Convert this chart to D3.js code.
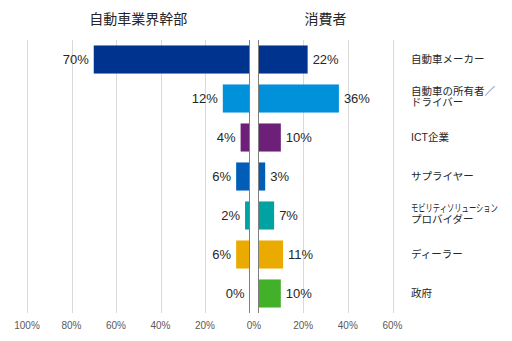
<!DOCTYPE html>
<html><head><meta charset="utf-8">
<script src="https://cdn.jsdelivr.net/npm/d3@7"></script>
<style>body{margin:0;background:#fff;}svg{display:block;}text{font-family:"Liberation Sans","Noto Sans CJK JP",sans-serif;}</style>
</head><body>
<svg id="c" width="512" height="341"></svg>
<script>
const categories = [["自動車メーカー"],["自動車の所有者／","ドライバー"],["ICT企業"],["サプライヤー"],["モビリティソリューション","プロバイダー"],["ディーラー"],["政府"]];
const executives = [70,12,4,6,2,6,0];
const consumers = [22,36,10,3,7,11,10];
const colors = ["#00338D","#0091DA","#6D2077","#005EB8","#00A3A1","#EAAA00","#43B02A"];
const leftTicks = [100,80,60,40,20];
const rightTicks = [20,40,60];
const titles = ["自動車業界幹部","消費者"];

const svg = d3.select("#c");
const plotTop = 40, plotBottom = 313;
const xL = d3.scaleLinear().domain([0,100]).range([249.5,27]);
const xR = d3.scaleLinear().domain([0,60]).range([258.5,392.5]);
const y = d3.scaleBand().domain(d3.range(categories.length)).range([plotTop,plotBottom]).paddingInner(0.28).paddingOuter(0.14);

// gridlines
svg.append("g").selectAll("line").data(leftTicks).join("line")
  .attr("x1",d=>Math.round(xL(d))+0.5).attr("x2",d=>Math.round(xL(d))+0.5)
  .attr("y1",plotTop).attr("y2",plotBottom).attr("stroke","#d9d9d9");
svg.append("g").selectAll("line").data(rightTicks).join("line")
  .attr("x1",d=>Math.round(xR(d))+0.5).attr("x2",d=>Math.round(xR(d))+0.5)
  .attr("y1",plotTop).attr("y2",plotBottom).attr("stroke","#d9d9d9");

// bars
svg.append("g").selectAll("rect").data(executives).join("rect")
  .attr("x",d=>xL(d)).attr("width",d=>xL(0)-xL(d))
  .attr("y",(d,i)=>y(i)).attr("height",y.bandwidth())
  .attr("fill",(d,i)=>colors[i]);
svg.append("g").selectAll("rect").data(consumers).join("rect")
  .attr("x",xR(0)).attr("width",d=>xR(d)-xR(0))
  .attr("y",(d,i)=>y(i)).attr("height",y.bandwidth())
  .attr("fill",(d,i)=>colors[i]);

// axis lines
[xL(0), xR(0)].forEach(x=>{
  svg.append("line").attr("x1",x).attr("x2",x).attr("y1",plotTop).attr("y2",plotBottom).attr("stroke","#7f7f7f").attr("stroke-width",1);
});

// value labels
svg.append("g").selectAll("text").data(executives).join("text")
  .attr("x",d=>xL(d)-5).attr("y",(d,i)=>y(i)+y.bandwidth()/2).attr("dy","0.35em")
  .attr("text-anchor","end").attr("font-size",13).attr("fill","#262626").text(d=>d+"%");
svg.append("g").selectAll("text").data(consumers).join("text")
  .attr("x",d=>xR(d)+5).attr("y",(d,i)=>y(i)+y.bandwidth()/2).attr("dy","0.35em")
  .attr("text-anchor","start").attr("font-size",13).attr("fill","#262626").text(d=>d+"%");

// category labels (one text element per line; squeeze overly long lines horizontally)
const maxW = 87;
const lab = svg.append("g");
categories.forEach((lines,i)=>{
  const cy = y(i)+y.bandwidth()/2 - (lines.length>1?1.5:0);
  lines.forEach((l,k)=>{
    const ly = cy + (k-(lines.length-1)/2)*11.5;
    const t = lab.append("text").attr("font-size",10.5).attr("fill","#262626")
      .attr("dy","0.35em").text(l);
    const w = t.node().getComputedTextLength();
    const sx = w > maxW ? maxW / w : 1;
    t.attr("transform",`translate(411,${ly}) scale(${sx},1)`);
  });
});

// tick labels
const tickY = 325;
svg.append("g").selectAll("text").data(leftTicks).join("text")
  .attr("x",d=>xL(d)).attr("y",tickY).attr("dy","0.35em").attr("text-anchor","middle")
  .attr("font-size",10).attr("fill","#595959").text(d=>d+"%");
svg.append("text").attr("x",(xL(0)+xR(0))/2).attr("y",tickY).attr("dy","0.35em").attr("text-anchor","middle")
  .attr("font-size",10).attr("fill","#595959").text("0%");
svg.append("g").selectAll("text").data(rightTicks).join("text")
  .attr("x",d=>xR(d)).attr("y",tickY).attr("dy","0.35em").attr("text-anchor","middle")
  .attr("font-size",10).attr("fill","#595959").text(d=>d+"%");

// titles
svg.append("text").attr("x",(xL(0)+xL(100))/2).attr("y",19).attr("dy","0.35em").attr("text-anchor","middle")
  .attr("font-size",14).attr("fill","#262626").text(titles[0]);
svg.append("text").attr("x",(xR(0)+xR(60))/2).attr("y",19).attr("dy","0.35em").attr("text-anchor","middle")
  .attr("font-size",14).attr("fill","#262626").text(titles[1]);
</script>
</body></html>
